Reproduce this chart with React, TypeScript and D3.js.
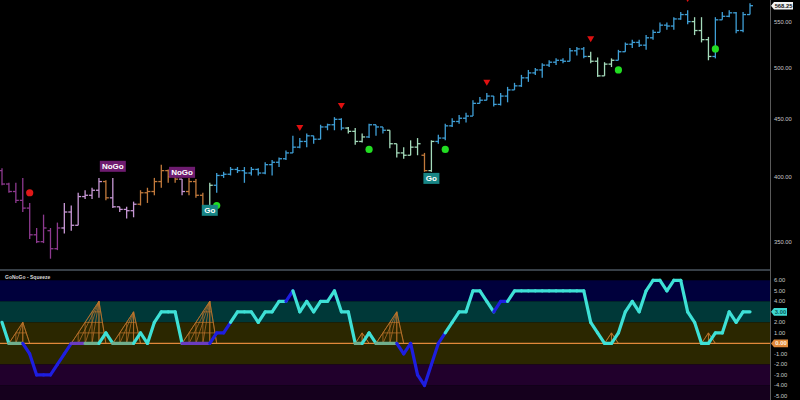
import React, { useEffect, useRef } from 'react';
import * as d3 from 'd3';

// OHLC bars (log scale)
const opens = [
  405, 394, 388, 381, 375, 355, 350, 358, 345, 360,
  372, 362, 384, 385, 389, 396, 383, 376, 374, 373,
  378, 387, 388, 396, 405, 400, 398, 388, 396, 385,
  374, 393, 401, 402, 406, 405, 403, 406, 403, 410,
  412, 415, 420, 425, 430, 435, 432, 443, 445, 450,
  442, 439, 430, 434, 445, 443, 440, 428, 420, 418,
  425, 418, 405, 430, 433, 444, 448, 451, 453, 465,
  468, 472, 464, 472, 478, 482, 490, 495, 498, 503,
  506, 508, 507, 518, 520, 512, 507, 492, 504, 508,
  517, 525, 527, 524, 532, 538, 546, 545, 553, 558,
  550, 540, 530, 512, 552, 556, 560, 540, 558,
];
const highs = [
  407, 395, 395, 399, 379, 360, 370, 360, 364, 379,
  377, 387, 389, 391, 399, 397, 399, 376, 376, 380,
  389, 391, 399, 410, 406, 404, 398, 399, 398, 387,
  395, 403, 404, 408, 408, 408, 408, 407, 412, 414,
  416, 422, 435, 433, 437, 435, 445, 446, 452, 451,
  443, 442, 437, 446, 445, 443, 440, 428, 425, 431,
  433, 420, 431, 436, 446, 451, 454, 456, 468, 471,
  475, 472, 475, 481, 485, 493, 498, 500, 505, 508,
  510, 510, 521, 522, 522, 517, 511, 506, 510, 519,
  527, 530, 530, 535, 541, 549, 549, 555, 561, 563,
  555, 555, 533, 555, 561, 563, 561, 561, 571,
];
const lows = [
  393, 387, 379, 372, 352, 349, 349, 338, 344, 356,
  358, 362, 382, 382, 383, 381, 375, 372, 367, 368,
  377, 379, 385, 391, 395, 395, 385, 385, 383, 372,
  373, 387, 399, 401, 403, 395, 401, 401, 402, 401,
  408, 414, 420, 424, 425, 428, 432, 440, 440, 440,
  437, 427, 429, 433, 435, 437, 424, 416, 415, 418,
  418, 404, 404, 428, 431, 443, 446, 447, 453, 465,
  468, 462, 463, 466, 478, 481, 486, 493, 490, 501,
  503, 505, 507, 513, 510, 505, 491, 492, 501, 508,
  517, 521, 522, 519, 530, 538, 541, 541, 552, 547,
  535, 527, 508, 510, 552, 555, 537, 538, 558,
];
const closes = [
  394, 388, 381, 375, 355, 350, 360, 345, 360, 372,
  362, 384, 385, 389, 396, 383, 376, 374, 373, 378,
  387, 388, 396, 405, 400, 398, 388, 396, 385, 374,
  393, 401, 402, 406, 405, 403, 406, 403, 410, 412,
  415, 420, 425, 430, 435, 432, 443, 445, 450, 442,
  439, 430, 434, 445, 443, 440, 428, 420, 418, 425,
  428, 405, 430, 433, 444, 448, 451, 453, 465, 468,
  472, 464, 472, 478, 482, 490, 495, 498, 503, 506,
  508, 507, 518, 520, 512, 507, 492, 504, 508, 517,
  525, 527, 524, 532, 538, 546, 545, 553, 558, 550,
  540, 530, 512, 552, 556, 560, 540, 558, 568.25,
];
// trend state per bar: 2 strong go, 1 weak go, 0 neutral, -1 weak nogo, -2 strong nogo
const trend = [
  -2, -2, -2, -2, -2, -2, -2, -2, -2, -1,
  -1, -1, -1, -1, -1, 0, -1, -1, -1, -1,
  0, 0, 0, 0, 0, 0, -1, 0, 0, 0,
  1, 2, 2, 2, 2, 2, 2, 2, 2, 2,
  2, 2, 2, 2, 2, 2, 2, 2, 2, 2,
  1, 1, 1, 2, 2, 2, 1, 1, 1, 1,
  1, 0, 1, 2, 2, 2, 2, 2, 2, 2,
  2, 2, 2, 2, 2, 2, 2, 2, 2, 2,
  2, 2, 2, 2, 2, 1, 1, 1, 1, 2,
  2, 2, 2, 2, 2, 2, 2, 2, 2, 2,
  1, 1, 1, 2, 2, 2, 2, 2, 2,
];

// GoNoGo oscillator per bar
const oscValues = [
  2, 0, 0, 0, -1, -3, -3, -3, -2, -1,
  0, 0, 0, 0, 0, 1, 0, 0, 0, 0,
  1, 0, 2, 3, 3, 3, 0, 0, 0, 0,
  0, 1, 1, 2, 3, 3, 3, 2, 3, 3,
  4, 4, 5, 3, 4, 3, 4, 4, 5, 3,
  3, 0, 0, 1, 0, 0, 0, 0, -1, 0,
  -3, -4, -2, 0, 1, 2, 3, 3, 5, 5,
  4, 3, 4, 4, 5, 5, 5, 5, 5, 5,
  5, 5, 5, 5, 5, 2, 1, 0, 0, 1,
  3, 4, 3, 5, 6, 6, 5, 6, 6, 3,
  2, 0, 0, 1, 1, 3, 2, 3, 3,
];
// line tone for the segment ending at each point: c cyan, b blue, g grey-green, p violet
const oscTone = [
  'c', 'c', 'g', 'g', 'b', 'b', 'b', 'b', 'b', 'b',
  'b', 'p', 'p', 'g', 'g', 'c', 'c', 'g', 'g', 'g',
  'c', 'c', 'c', 'c', 'c', 'c', 'c', 'p', 'p', 'p',
  'p', 'b', 'b', 'b', 'c', 'c', 'c', 'c', 'c', 'c',
  'c', 'c', 'b', 'c', 'c', 'c', 'c', 'c', 'c', 'c',
  'c', 'c', 'g', 'c', 'c', 'g', 'g', 'g', 'b', 'b',
  'b', 'b', 'b', 'b', 'b', 'c', 'c', 'c', 'c', 'c',
  'c', 'c', 'b', 'b', 'c', 'c', 'c', 'c', 'c', 'c',
  'c', 'c', 'c', 'c', 'c', 'c', 'c', 'c', 'c', 'c',
  'c', 'c', 'c', 'c', 'c', 'c', 'c', 'c', 'c', 'c',
  'c', 'c', 'c', 'c', 'c', 'c', 'c', 'c', 'c',
];
// squeeze grid height per bar
const squeeze = [
  0, 0, 1, 2, 0, 0, 0, 0, 0, 0,
  0, 1, 2, 3, 4, 0, 0, 1, 2, 3,
  0, 0, 0, 0, 0, 0, 0, 1, 2, 3,
  4, 0, 0, 0, 0, 0, 0, 0, 0, 0,
  0, 0, 0, 0, 0, 0, 0, 0, 0, 0,
  0, 0, 1, 0, 0, 1, 2, 3, 0, 0,
  0, 0, 0, 0, 0, 0, 0, 0, 0, 0,
  0, 0, 0, 0, 0, 0, 0, 0, 0, 0,
  0, 0, 0, 0, 0, 0, 0, 0, 1, 0,
  0, 0, 0, 0, 0, 0, 0, 0, 0, 0,
  0, 0, 1, 0, 0, 0, 0, 0, 0,
];

const priceTicks = [350, 400, 450, 500, 550];
const oscTicks = [6, 5, 4, 3, 2, 1, 0, -1, -2, -3, -4, -5];
const bandEdges = [6, 4, 2, -2, -4, -6];

const goDots = [
  { i: 31, price: 377 }, { i: 53, price: 423 }, { i: 64, price: 423 },
  { i: 89, price: 498 }, { i: 103, price: 520 },
];
const nogoDots = [{ i: 4, price: 387 }];
const topMarks = [
  { i: 43, price: 442 }, { i: 49, price: 462.5 }, { i: 70, price: 485 },
  { i: 85, price: 530.5 }, { i: 99, price: 576 },
];
const tags = [
  { i: 16, price: 408.6, text: 'NoGo' },
  { i: 26, price: 403.6, text: 'NoGo' },
  { i: 30, price: 373.3, text: 'Go' },
  { i: 62, price: 398.6, text: 'Go' },
];

const W = 800;
const H = 400;
const AXIS_X = 770;
const SPLIT_Y = 270;
const FONT = 'Liberation Sans, Arial, sans-serif';

const trendColor: Record<number, string> = {
  '-2': '#8e3a90', '-1': '#c898d6', '0': '#c27a3c', '1': '#a4dbbb', '2': '#3f9fd6',
};
const toneColor: Record<string, string> = { c: '#3ee0d6', b: '#1e1ee0', g: '#6fae8c', p: '#6a3cc0' };
const bandColors = ['#00003c', '#003838', '#2b2700', '#21002c', '#15001d'];

const App: React.FC = () => {
  const svgRef = useRef<SVGSVGElement>(null);

  useEffect(() => {
    if (!svgRef.current) return;
    const svg = d3.select(svgRef.current);
    svg.selectAll('*').remove();

    const x = d3.scaleLinear().domain([0, closes.length - 1]).range([2, 750]);
    const y = d3.scaleLog().domain([350, 550]).range([241.7, 21.6]);
    const yo = d3.scaleLinear().domain([-5, 6]).range([396, 280.3]);

    svg.append('rect').attr('width', W).attr('height', H).attr('fill', '#000');

    const defs = svg.append('defs');
    defs.append('clipPath').attr('id', 'clip-price')
      .append('rect').attr('x', 0).attr('y', 0).attr('width', AXIS_X).attr('height', SPLIT_Y);
    defs.append('clipPath').attr('id', 'clip-osc')
      .append('rect').attr('x', 0).attr('y', SPLIT_Y + 1).attr('width', AXIS_X).attr('height', H - SPLIT_Y);

    // ---- price panel
    const gp = svg.append('g').attr('clip-path', 'url(#clip-price)');
    const barData = closes.map((c, i) => ({ i, o: opens[i], h: highs[i], l: lows[i], c, t: trend[i] }));
    const bars = gp.selectAll('g.bar').data(barData).enter().append('g')
      .attr('stroke', d => trendColor[d.t]).attr('stroke-width', 1.3);
    bars.append('line')
      .attr('x1', d => x(d.i)).attr('x2', d => x(d.i))
      .attr('y1', d => y(d.h)).attr('y2', d => y(d.l));
    bars.append('line')
      .attr('x1', d => x(d.i) - 3).attr('x2', d => x(d.i))
      .attr('y1', d => y(d.o)).attr('y2', d => y(d.o));
    bars.append('line')
      .attr('x1', d => x(d.i)).attr('x2', d => x(d.i) + 3)
      .attr('y1', d => y(d.c)).attr('y2', d => y(d.c));

    gp.selectAll('circle.go').data(goDots).enter().append('circle')
      .attr('cx', d => x(d.i)).attr('cy', d => y(d.price)).attr('r', 3.6).attr('fill', '#22dd22');
    gp.selectAll('circle.nogo').data(nogoDots).enter().append('circle')
      .attr('cx', d => x(d.i)).attr('cy', d => y(d.price)).attr('r', 3.6).attr('fill', '#e01818');
    gp.selectAll('path.top').data(topMarks).enter().append('path')
      .attr('d', d => {
        const cx = x(d.i), cy = y(d.price);
        return `M${cx - 3.5},${cy - 3} L${cx + 3.5},${cy - 3} L${cx},${cy + 3} Z`;
      })
      .attr('fill', '#e01010');

    const tg = gp.selectAll('g.tag').data(tags).enter().append('g');
    tg.append('rect')
      .attr('x', d => x(d.i) - (d.text === 'Go' ? 8 : 13))
      .attr('y', d => y(d.price) - 5.5)
      .attr('width', d => (d.text === 'Go' ? 16 : 26)).attr('height', 11)
      .attr('fill', d => (d.text === 'Go' ? '#178585' : '#6e1c70'));
    tg.append('text')
      .attr('x', d => x(d.i)).attr('y', d => y(d.price) + 3)
      .attr('text-anchor', 'middle').attr('fill', '#fff')
      .attr('font-family', FONT).attr('font-weight', 'bold').attr('font-size', 8)
      .text(d => d.text);

    // ---- oscillator panel
    const go = svg.append('g').attr('clip-path', 'url(#clip-osc)');
    bandColors.forEach((col, k) => {
      go.append('rect')
        .attr('x', 0).attr('width', AXIS_X)
        .attr('y', yo(bandEdges[k])).attr('height', yo(bandEdges[k + 1]) - yo(bandEdges[k]))
        .attr('fill', col);
    });

    // squeeze grid
    const sq = go.append('g').attr('stroke', '#c0762c').attr('stroke-width', 0.7).attr('fill', 'none');
    const runs: [number, number][] = [];
    squeeze.forEach((s, i) => {
      if (s > 0 && (i === 0 || squeeze[i - 1] === 0)) runs.push([i - 1, i]);
      if (s > 0) runs[runs.length - 1][1] = i + 1;
    });
    runs.forEach(([a, b]) => {
      const idx = d3.range(a, b + 1);
      const top = d3.max(idx, i => squeeze[i]) || 0;
      const peak = idx.find(i => squeeze[i] === top)!;
      sq.append('path')
        .attr('d', d3.line<number>().x(i => x(i)).y(i => yo(squeeze[i]))(idx));
      idx.forEach(i => {
        if (squeeze[i] > 0) {
          sq.append('line').attr('x1', x(i)).attr('x2', x(i)).attr('y1', yo(0)).attr('y2', yo(squeeze[i]));
        }
        sq.append('line').attr('x1', x(peak)).attr('x2', x(i)).attr('y1', yo(top)).attr('y2', yo(0));
      });
      for (let lv = 1; lv < top; lv++) {
        const xl = d3.scaleLinear().domain([0, top]).range([x(a), x(peak)])(lv);
        const xr = d3.scaleLinear().domain([top, 0]).range([x(peak), x(b)])(lv);
        sq.append('line').attr('x1', xl).attr('x2', xr).attr('y1', yo(lv)).attr('y2', yo(lv));
      }
    });

    go.append('line')
      .attr('x1', 0).attr('x2', AXIS_X).attr('y1', yo(0)).attr('y2', yo(0))
      .attr('stroke', '#e0883a').attr('stroke-width', 1.3);

    const segs = oscValues.slice(1).map((v, k) => ({ a: k, b: k + 1, tone: oscTone[k + 1] }));
    go.selectAll('line.osc').data(segs).enter().append('line')
      .attr('x1', d => x(d.a)).attr('y1', d => yo(oscValues[d.a]))
      .attr('x2', d => x(d.b)).attr('y2', d => yo(oscValues[d.b]))
      .attr('stroke', d => toneColor[d.tone]).attr('stroke-width', 3.2).attr('stroke-linecap', 'round');

    svg.append('text')
      .attr('x', 5).attr('y', 279).attr('fill', '#d8d8d8')
      .attr('font-family', FONT).attr('font-weight', 'bold').attr('font-size', 5)
      .text('GoNoGo - Squeeze');

    // ---- frame and axes
    svg.append('line')
      .attr('x1', 0).attr('x2', AXIS_X).attr('y1', SPLIT_Y).attr('y2', SPLIT_Y)
      .attr('stroke', '#6f7f8e').attr('stroke-width', 1.2);
    svg.append('line')
      .attr('x1', AXIS_X + 0.5).attr('x2', AXIS_X + 0.5).attr('y1', 0).attr('y2', H)
      .attr('stroke', '#5a5a5a').attr('stroke-width', 1);

    svg.selectAll('text.pt').data(priceTicks).enter().append('text')
      .attr('x', 774).attr('y', d => y(d) + 2)
      .attr('fill', '#c8c8c8').attr('font-family', FONT).attr('font-size', 5.8)
      .text(d => d.toFixed(2));
    svg.selectAll('text.ot').data(oscTicks).enter().append('text')
      .attr('x', 774).attr('y', d => yo(d) + 2)
      .attr('fill', '#c8c8c8').attr('font-family', FONT).attr('font-size', 5.8)
      .text(d => d.toFixed(2));

    const pointer = (cy: number, w: number, fill: string, label: string, ink: string) => {
      const g = svg.append('g');
      g.append('path')
        .attr('d', `M${AXIS_X + 1},${cy} L${AXIS_X + 4},${cy - 3.8} L${AXIS_X + w},${cy - 3.8} L${AXIS_X + w},${cy + 3.8} L${AXIS_X + 4},${cy + 3.8} Z`)
        .attr('fill', fill);
      g.append('text')
        .attr('x', AXIS_X + 4 + (w - 4) / 2).attr('y', cy + 2)
        .attr('text-anchor', 'middle').attr('fill', ink)
        .attr('font-family', FONT).attr('font-weight', 'bold').attr('font-size', 5.8)
        .text(label);
    };
    const last = closes.length - 1;
    pointer(y(closes[last]), 23, '#f2f2f2', closes[last].toFixed(2), '#111');
    pointer(yo(oscValues[last]), 17, '#3ed8d0', oscValues[last].toFixed(2), '#0a5a5a');
    pointer(yo(0), 18, '#e0883a', (0).toFixed(2), '#fff1e0');
  }, []);

  return (
    <div style={{ position: 'absolute', left: 0, top: 0, width: W, height: H, background: '#000' }}>
      <svg ref={svgRef} width={W} height={H} viewBox={`0 0 ${W} ${H}`} style={{ display: 'block' }} />
    </div>
  );
};

export default App;
